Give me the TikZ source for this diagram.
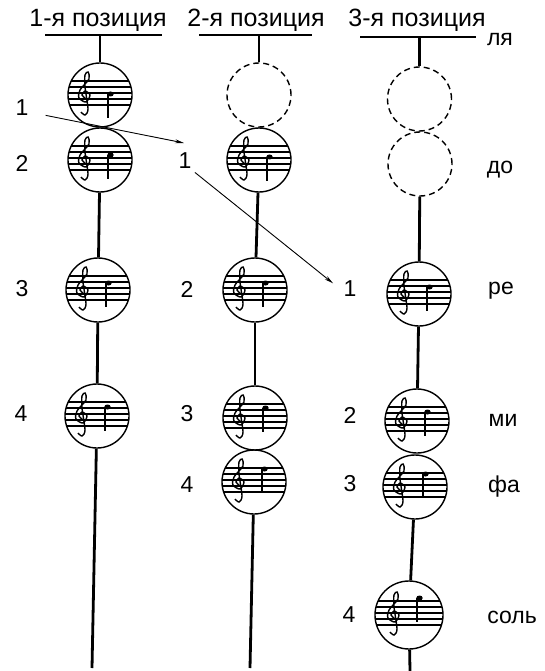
\documentclass[tikz,border=0pt]{standalone}
\usepackage{fontspec}
\setmainfont{Liberation Sans}
\usetikzlibrary{arrows.meta}
\tikzset{
  pics/notestaff/.style 2 args={code={
    \begin{scope}
      \clip (0,0) circle (#2);
      \draw[line width=1.5pt] (-36,-14) -- (36,-14);
      \draw[line width=1.5pt] (-36,-8) -- (36,-8);
      \draw[line width=1.5pt] (-36,-2) -- (36,-2);
      \draw[line width=1.5pt] (-36,4) -- (36,4);
      \draw[line width=1.5pt] (-36,10) -- (36,10);
    \end{scope}
    \draw[line width=1.4pt] plot[smooth] coordinates {(-15,3) (-18,0) (-15,-4) (-10,0) (-14,7) (-21,3) (-20,-5) (-11,-16) (-12,-23) (-15,-20) (-15,-8) (-12,14) (-15,20) (-19,17)};
    \draw[line width=1.4pt] (8,#1) -- (8,#1+24);
    \fill (10.5,#1) ellipse (3.2 and 2.5);
  }},
  notehead/.style={circle, draw, line width=1.4pt, minimum size=64pt, inner sep=0pt},
  ghosthead/.style={notehead, dash pattern=on 6pt off 4pt},
  string/.style={line width=2.8pt},
  posbar/.style={fill=black, inner sep=0pt, minimum height=2.8pt},
  slidearrow/.style={line width=0.9pt, -{Stealth[length=9pt,width=4pt]}},
  lab/.style={font=\fontsize{23}{25}\selectfont},
  headlab/.style={font=\fontsize{25}{27}\selectfont},
}
\begin{document}
\begin{tikzpicture}[x=1pt,y=-1pt]
  \useasboundingbox (0,0) rectangle (544,671);

  % First position
  \node[headlab] (head1) at (98,20) {1-я позиция};
  \node[posbar, minimum width=117pt] (bar1) at (103.5,35) {};
  \node[notehead] (c11) at (100,95) {};
  \node[notehead] (c12) at (100,160) {};
  \node[notehead] (c13) at (98,290) {};
  \node[notehead] (c14) at (97,416) {};
  \coordinate (end1) at (92,668);
  \pic at (c11) {notestaff={-1}{32}};
  \pic at (c12) {notestaff={-5}{32}};
  \pic at (c13) {notestaff={-7}{32}};
  \pic at (c14) {notestaff={-9}{32}};
  \draw[string] (c11 |- bar1) -- (c11);
  \draw[string] (c12) -- (c13);
  \draw[string] (c13) -- (c14);
  \draw[string] (c14) -- (end1);
  \node[lab] (one1) at (22,108) {1};
  \node[lab] (two1) at (22,163) {2};
  \node[lab] (three1) at (22,289) {3};
  \node[lab] (four1) at (21,414) {4};

  % Second position
  \node[headlab] (head2) at (256,20) {2-я позиция};
  \node[posbar, minimum width=113pt] (bar2) at (255.5,35) {};
  \node[ghosthead] (c21) at (259,95) {};
  \node[notehead] (c22) at (259,160) {};
  \node[notehead] (c23) at (255,290) {};
  \node[notehead] (c24) at (255,418) {};
  \node[notehead] (c25) at (254,482) {};
  \coordinate (end2) at (250,668);
  \pic at (c22) {notestaff={-3}{32}};
  \pic at (c23) {notestaff={-7}{32}};
  \pic at (c24) {notestaff={-10}{32}};
  \pic at (c25) {notestaff={-13}{32}};
  \draw[string] (c21 |- bar2) -- (c21);
  \draw[string] (c22) -- (c23);
  \draw[string] (c23) -- (c24);
  \draw[string] (c25) -- (end2);
  \node[lab] (one2) at (185,161) {1};
  \node[lab] (two2) at (187,289) {2};
  \node[lab] (three2) at (187,414) {3};
  \node[lab] (four2) at (187,485) {4};

  % Third position
  \node[headlab] (head3) at (417,20) {3-я позиция};
  \node[posbar, minimum width=116pt] (bar3) at (418,37) {};
  \node[ghosthead] (c31) at (419.5,99) {};
  \node[ghosthead] (c32) at (420,164) {};
  \node[notehead] (c33) at (419,294) {};
  \node[notehead] (c34) at (417,421) {};
  \node[notehead] (c35) at (415,487) {};
  \node[notehead, minimum size=68pt] (c36) at (409,615) {};
  \coordinate (end3) at (410,671);
  \pic at (c33) {notestaff={-7}{32}};
  \pic at (c34) {notestaff={-9}{32}};
  \pic at (c35) {notestaff={-13}{32}};
  \pic at (c36) {notestaff={-17}{34}};
  \draw[string] (c31 |- bar3) -- (c31);
  \draw[string] (c32) -- (c33);
  \draw[string] (c33) -- (c34);
  \draw[string] (c35) -- (c36);
  \draw[string] (c36) -- (end3);
  \node[lab] (one3) at (350,289) {1};
  \node[lab] (two3) at (350,415) {2};
  \node[lab] (three3) at (350,484) {3};
  \node[lab] (four3) at (349,615) {4};

  % Note names
  \node[lab] (la) at (500,40) {ля};
  \node[lab] (do) at (500,170) {до};
  \node[lab] (re) at (501,291) {ре};
  \node[lab] (mi) at (503,420) {ми};
  \node[lab] (fa) at (504,487) {фа};
  \node[lab] (sol) at (512,617) {соль};

  % Slides
  \coordinate (tip1) at (184,143);
  \draw[slidearrow, shorten <=14pt] (one1.-25) -- (tip1);
  \draw[slidearrow, shorten >=9pt] (one2.south east) -- (one3.west);
\end{tikzpicture}
\end{document}
